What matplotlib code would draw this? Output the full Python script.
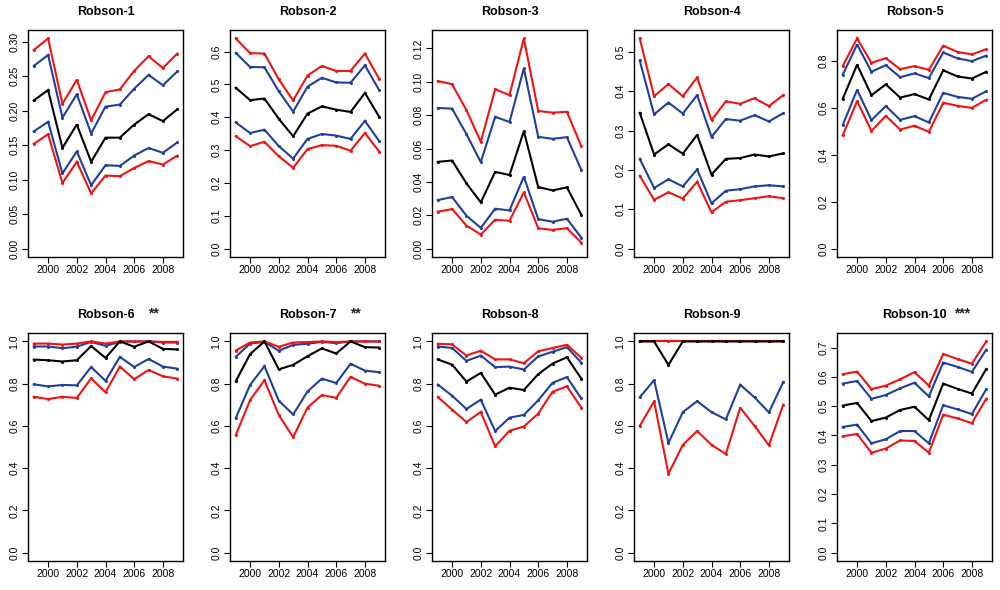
import matplotlib
matplotlib.use("Agg")
import matplotlib.pyplot as plt
import numpy as np

plt.rcParams['font.family'] = ['Liberation Sans', 'DejaVu Sans']

years = [1999, 2000, 2001, 2002, 2003, 2004, 2005, 2006, 2007, 2008, 2009]
titles = ["Robson-1", "Robson-2", "Robson-3", "Robson-4", "Robson-5",
          "Robson-6", "Robson-7", "Robson-8", "Robson-9", "Robson-10"]
stars = ["", "", "", "", "", "**", "**", "", "", "***"]
ytick_max = [0.30, 0.6, 0.12, 0.5, 0.8, 1.0, 1.0, 1.0, 1.0, 0.7]
ytick_step = [0.05, 0.1, 0.02, 0.1, 0.2, 0.2, 0.2, 0.2, 0.2, 0.1]
ytick_dec = [2, 1, 2, 1, 1, 1, 1, 1, 1, 1]
xticks = [2000, 2002, 2004, 2006, 2008]

red_upper = [
    [0.288, 0.305, 0.210, 0.245, 0.186, 0.227, 0.231, 0.258, 0.279, 0.262, 0.283],
    [0.640, 0.595, 0.594, 0.515, 0.451, 0.527, 0.556, 0.541, 0.541, 0.594, 0.516],
    [0.1005, 0.0985, 0.083, 0.064, 0.0955, 0.092, 0.126, 0.0825, 0.0815, 0.082, 0.0614],
    [0.534, 0.387, 0.418, 0.387, 0.435, 0.326, 0.374, 0.368, 0.382, 0.362, 0.390],
    [0.777, 0.895, 0.791, 0.811, 0.764, 0.777, 0.761, 0.864, 0.837, 0.827, 0.849],
    [0.990, 0.990, 0.985, 0.990, 1.000, 0.990, 1.000, 1.000, 1.000, 0.998, 0.998],
    [0.957, 0.995, 1.000, 0.975, 0.995, 0.997, 1.000, 0.997, 1.000, 1.000, 1.000],
    [0.989, 0.986, 0.933, 0.956, 0.915, 0.915, 0.897, 0.953, 0.969, 0.984, 0.923],
    [1.000, 1.000, 1.000, 1.000, 1.000, 1.000, 1.000, 1.000, 1.000, 1.000, 1.000],
    [0.609, 0.618, 0.558, 0.570, 0.592, 0.616, 0.570, 0.678, 0.661, 0.645, 0.721],
]
blue_upper = [
    [0.265, 0.281, 0.190, 0.224, 0.167, 0.206, 0.209, 0.232, 0.252, 0.237, 0.257],
    [0.596, 0.553, 0.552, 0.479, 0.417, 0.493, 0.520, 0.506, 0.505, 0.558, 0.482],
    [0.0843, 0.0839, 0.0686, 0.0518, 0.079, 0.0759, 0.108, 0.067, 0.0658, 0.0668, 0.0472],
    [0.478, 0.341, 0.371, 0.343, 0.390, 0.284, 0.329, 0.325, 0.339, 0.323, 0.344],
    [0.740, 0.869, 0.753, 0.781, 0.730, 0.746, 0.726, 0.835, 0.810, 0.798, 0.822],
    [0.976, 0.976, 0.968, 0.975, 0.998, 0.979, 0.998, 1.000, 1.000, 0.995, 0.995],
    [0.927, 0.990, 0.998, 0.956, 0.984, 0.989, 0.998, 0.992, 1.000, 1.000, 1.000],
    [0.976, 0.969, 0.908, 0.933, 0.878, 0.881, 0.867, 0.929, 0.951, 0.973, 0.900],
    [1.000, 1.000, 1.000, 1.000, 1.000, 1.000, 1.000, 1.000, 1.000, 1.000, 1.000],
    [0.577, 0.586, 0.525, 0.538, 0.561, 0.580, 0.533, 0.649, 0.634, 0.617, 0.693],
]
median = [
    [0.215, 0.230, 0.146, 0.180, 0.126, 0.161, 0.161, 0.180, 0.195, 0.185, 0.202],
    [0.490, 0.452, 0.457, 0.395, 0.342, 0.411, 0.433, 0.423, 0.416, 0.474, 0.401],
    [0.052, 0.0528, 0.0391, 0.0277, 0.046, 0.0441, 0.0704, 0.0369, 0.0349, 0.0367, 0.0203],
    [0.345, 0.239, 0.265, 0.241, 0.289, 0.188, 0.228, 0.230, 0.239, 0.234, 0.242],
    [0.638, 0.783, 0.653, 0.699, 0.643, 0.658, 0.635, 0.759, 0.733, 0.724, 0.753],
    [0.914, 0.911, 0.905, 0.911, 0.978, 0.922, 1.000, 0.975, 1.000, 0.965, 0.962],
    [0.811, 0.940, 1.000, 0.868, 0.889, 0.930, 0.967, 0.943, 1.000, 0.973, 0.971],
    [0.915, 0.890, 0.810, 0.851, 0.748, 0.781, 0.770, 0.845, 0.895, 0.925, 0.824],
    [1.000, 1.000, 0.889, 1.000, 1.000, 1.000, 1.000, 1.000, 1.000, 1.000, 1.000],
    [0.502, 0.511, 0.449, 0.461, 0.487, 0.498, 0.452, 0.577, 0.559, 0.543, 0.627],
]
blue_lower = [
    [0.170, 0.184, 0.109, 0.141, 0.092, 0.121, 0.120, 0.135, 0.146, 0.139, 0.154],
    [0.384, 0.352, 0.362, 0.312, 0.274, 0.334, 0.349, 0.344, 0.334, 0.389, 0.327],
    [0.0291, 0.0309, 0.0197, 0.0124, 0.0239, 0.0229, 0.0431, 0.0177, 0.0161, 0.0179, 0.0066],
    [0.228, 0.154, 0.176, 0.158, 0.201, 0.115, 0.147, 0.151, 0.158, 0.161, 0.158],
    [0.526, 0.676, 0.547, 0.607, 0.548, 0.564, 0.537, 0.663, 0.646, 0.638, 0.670],
    [0.797, 0.787, 0.794, 0.792, 0.879, 0.813, 0.927, 0.879, 0.917, 0.881, 0.871],
    [0.637, 0.794, 0.883, 0.719, 0.654, 0.763, 0.824, 0.803, 0.894, 0.862, 0.854],
    [0.796, 0.743, 0.680, 0.724, 0.575, 0.639, 0.652, 0.721, 0.804, 0.831, 0.730],
    [0.735, 0.817, 0.519, 0.665, 0.717, 0.665, 0.631, 0.795, 0.735, 0.664, 0.808],
    [0.429, 0.437, 0.373, 0.387, 0.415, 0.415, 0.373, 0.503, 0.489, 0.473, 0.558],
]
red_lower = [
    [0.152, 0.166, 0.095, 0.126, 0.080, 0.106, 0.105, 0.117, 0.127, 0.122, 0.135],
    [0.342, 0.312, 0.325, 0.281, 0.246, 0.303, 0.315, 0.313, 0.298, 0.352, 0.295],
    [0.0221, 0.0237, 0.0138, 0.0084, 0.0173, 0.0167, 0.0337, 0.0122, 0.0112, 0.0122, 0.0036],
    [0.185, 0.124, 0.143, 0.127, 0.170, 0.092, 0.119, 0.123, 0.128, 0.133, 0.128],
    [0.482, 0.628, 0.501, 0.565, 0.507, 0.523, 0.497, 0.621, 0.608, 0.599, 0.634],
    [0.738, 0.727, 0.738, 0.732, 0.825, 0.759, 0.881, 0.821, 0.865, 0.835, 0.824],
    [0.556, 0.722, 0.816, 0.651, 0.546, 0.687, 0.746, 0.733, 0.832, 0.800, 0.790],
    [0.737, 0.677, 0.618, 0.666, 0.503, 0.577, 0.597, 0.658, 0.762, 0.787, 0.687],
    [0.600, 0.716, 0.373, 0.510, 0.576, 0.510, 0.467, 0.686, 0.600, 0.508, 0.701],
    [0.397, 0.405, 0.341, 0.355, 0.383, 0.381, 0.341, 0.471, 0.458, 0.442, 0.526],
]

RED = "#f21212"
BLUE = "#1f3f9f"
BLACK = "#000000"

fig = plt.figure(figsize=(10, 5.9), dpi=100)
W, H = 1000.0, 590.0
lefts = [28, 230, 432, 634, 837]
width = 155
rows = [(30, 257), (333, 561)]

for i in range(10):
    r, c = divmod(i, 5)
    top, bot = rows[r]
    ax = fig.add_axes([lefts[c] / W, 1 - bot / H, width / W, (bot - top) / H])
    series = [(blue_upper[i], BLUE), (blue_lower[i], BLUE),
              (red_upper[i], RED), (red_lower[i], RED),
              (median[i], BLACK)]
    for vals, col in series:
        ax.plot(years, vals, color=col, lw=1.5, marker='o', ms=2.2,
                markeredgewidth=0, solid_joinstyle='miter')
    allv = np.concatenate([red_upper[i], red_lower[i], blue_upper[i],
                           blue_lower[i], median[i]])
    ymax = max(allv.max(), ytick_max[i])
    ymin = 0.0
    rng = ymax - ymin
    ax.set_ylim(ymin - 0.04 * rng, ymax + 0.04 * rng)
    ax.set_xlim(1999 - 0.4, 2009 + 0.4)
    n = int(round(ytick_max[i] / ytick_step[i]))
    yt = [k * ytick_step[i] for k in range(n + 1)]
    ax.set_yticks(yt)
    ax.set_yticklabels([f"{v:.{ytick_dec[i]}f}" for v in yt], rotation=90,
                       va='center', fontsize=7.5)
    ax.set_xticks(xticks)
    ax.set_xticklabels([str(x) for x in xticks], fontsize=7.5)
    ax.tick_params(direction='out', length=4, width=0.8, pad=2)
    for s in ax.spines.values():
        s.set_linewidth(1.0)
    ax.set_title(titles[i], fontsize=9, fontweight='bold', pad=11)
    if stars[i]:
        ax.text(0.81, 1.0 + 11 / 72 * 100 / (bot - top), stars[i],
                transform=ax.transAxes, ha='center', va='baseline',
                fontsize=10, fontweight='bold', color='#222222')

fig.savefig("out.png", dpi=100)
